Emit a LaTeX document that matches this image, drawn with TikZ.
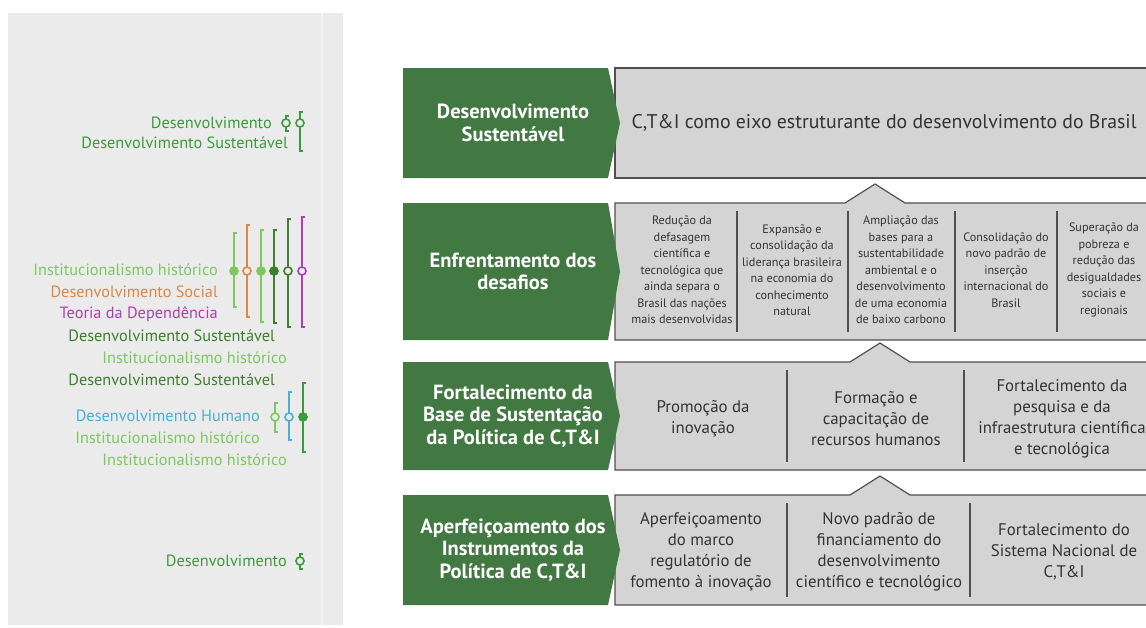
\documentclass[tikz,border=0pt]{standalone}
\usepackage{fontspec}
\setmainfont{PT Sans}
\usetikzlibrary{positioning}
\definecolor{panelGray}{RGB}{235,235,235}
\definecolor{boxGray}{RGB}{212,212,212}
\definecolor{edgeGray}{RGB}{80,80,80}
\definecolor{stageGreen}{RGB}{66,121,66}
\definecolor{devGreen}{RGB}{58,156,58}
\definecolor{instGreen}{RGB}{125,200,95}
\definecolor{susGreen}{RGB}{60,128,45}
\definecolor{socOrange}{RGB}{220,135,70}
\definecolor{depPurple}{RGB}{178,60,180}
\definecolor{humCyan}{RGB}{75,175,210}
\tikzstyle{pixels} = [x=1pt, y=-1pt]
\tikzstyle{stageStyle} = [fill=stageGreen, draw=none]
\tikzstyle{stageText} = [text=white, font=\fontsize{20.5}{22.5}\selectfont\bfseries, align=center]
\tikzstyle{boxStyle} = [fill=boxGray, draw=edgeGray, line width=1.2pt]
\tikzstyle{dividerLine} = [draw=edgeGray, line width=1.5pt]
\tikzstyle{itemText} = [font=\fontsize{16.8}{21}\selectfont, align=center, text=black!80]
\tikzstyle{smallText} = [font=\fontsize{12.2}{16.5}\selectfont, align=center, text=black!80, inner sep=1pt]
\tikzstyle{labelText} = [font=\fontsize{16.3}{18}\selectfont, anchor=east, inner sep=0pt]
\tikzstyle{barStyle} = [line width=1.6pt]
\newcommand{\boxLeft}{615}
\newcommand{\boxRight}{1160}
\newcommand{\stageArrow}[4]{\fill [stageStyle] (403,#2) -- (608,#2) -- (620,{(#2+#3)/2}) -- (608,#3) -- (403,#3) -- cycle;
  \node [stageText] (#1) at (513,{(#2+#3)/2}) {#4};}
\newcommand{\stageBox}[2]{\filldraw [boxStyle] (\boxLeft,#1) rectangle (\boxRight,#2);}
\newcommand{\stageBoxBump}[3]{\filldraw [boxStyle] (\boxLeft,#1) -- ({#3-30},#1) -- (#3,{#1-19}) -- ({#3+30},#1)
  -- (\boxRight,#1) -- (\boxRight,#2) -- (\boxLeft,#2) -- cycle;}
\newcommand{\divider}[3]{\draw [dividerLine] (#1,{#2+8}) -- (#1,{#3-8});}
\newcommand{\markerBar}[6]{\draw [barStyle, #5] ({#1+3},#2) -- (#1,#2) -- (#1,#3) -- ({#1+3},#3);
  \filldraw [barStyle, draw=#5, fill=#6] (#1,#4) circle (4);}

\begin{document}
\begin{tikzpicture}[pixels]
  \clip (0,0) rectangle (1146,627);
  \fill [white] (0,0) rectangle (1146,627);
  \fill [panelGray] (8,13) rectangle (343,625);
  \draw [white, line width=1.2pt, opacity=.45] (322,13) -- (322,625);

  % left panel
  \node [labelText, devGreen] (dev1) at (272,123) {Desenvolvimento};
  \node [labelText, devGreen] (sus1) at (288,143) {Desenvolvimento Sustentável};
  \markerBar{286}{116}{131}{123}{devGreen}{panelGray}
  \markerBar{300}{112}{151}{123}{devGreen}{panelGray}

  \node [labelText, instGreen] (inst1) at (218,270) {Institucionalismo histórico};
  \node [labelText, socOrange] (soc) at (218,292) {Desenvolvimento Social};
  \node [labelText, depPurple] (dep) at (218,314) {Teoria da Dependência};
  \node [labelText, susGreen] (sus2) at (275,336) {Desenvolvimento Sustentável};
  \node [labelText, instGreen] (inst2) at (287,358) {Institucionalismo histórico};
  \node [labelText, susGreen] (sus3) at (275,380) {Desenvolvimento Sustentável};
  \markerBar{234}{233}{307}{271}{instGreen}{instGreen}
  \markerBar{247}{225}{317}{271}{socOrange}{panelGray}
  \markerBar{261}{230}{322}{271}{instGreen}{instGreen}
  \markerBar{274}{230}{323}{271}{susGreen}{susGreen}
  \markerBar{288}{219}{327}{271}{susGreen}{panelGray}
  \markerBar{302}{217}{327}{271}{depPurple}{panelGray}

  \node [labelText, humCyan] (hum) at (260,416) {Desenvolvimento Humano};
  \node [labelText, instGreen] (inst3) at (260,438) {Institucionalismo histórico};
  \node [labelText, instGreen] (inst4) at (287,460) {Institucionalismo histórico};
  \markerBar{275}{403}{432}{417}{instGreen}{panelGray}
  \markerBar{289}{392}{440}{417}{humCyan}{panelGray}
  \markerBar{303}{383}{452}{417}{devGreen}{devGreen}

  \node [labelText, devGreen] (dev2) at (287,561) {Desenvolvimento};
  \markerBar{300}{554}{569}{561}{devGreen}{panelGray}

  % gray boxes
  \stageBox{68}{178}
  \stageBoxBump{203}{340}{875}
  \stageBoxBump{362}{470}{880}
  \stageBoxBump{495}{605}{880}

  % green stages
  \stageArrow{dsStage}{68}{178}{Desenvolvimento\\Sustentável}
  \stageArrow{edStage}{203}{340}{Enfrentamento dos\\desafios}
  \stageArrow{fbStage}{362}{470}{Fortalecimento da\\Base de Sustentação\\da Política de C,T\&I}
  \stageArrow{aiStage}{495}{605}{Aperfeiçoamento dos\\Instrumentos da\\Política de C,T\&I}

  % row 1
  \node [font=\fontsize{19.8}{22}\selectfont, text=black!80, anchor=west] (eixo) at (628,123) {C,T\&I como eixo estruturante do desenvolvimento do Brasil};

  % row 2
  \node [smallText] (reducao) at (682,270) {Redução da\\defasagem\\científica e\\tecnológica que\\ainda separa o\\Brasil das nações\\mais desenvolvidas};
  \node [smallText] (expansao) at (792,270) {Expansão e\\consolidação da\\liderança brasileira\\na economia do\\conhecimento\\natural};
  \node [smallText] (ampliacao) at (901,270) {Ampliação das\\bases para a\\sustentabilidade\\ambiental e o\\desenvolvimento\\de uma economia\\de baixo carbono};
  \node [smallText] (consolidacao) at (1006,270) {Consolidação do\\novo padrão de\\inserção\\internacional do\\Brasil};
  \node [smallText] (superacao) at (1104,270) {Superação da\\pobreza e\\redução das\\desigualdades\\sociais e\\regionais};
  \divider{737}{203}{340}
  \divider{848}{203}{340}
  \divider{955}{203}{340}
  \divider{1057}{203}{340}

  % row 3
  \node [itemText] (promocao) at (703,419) {Promoção da\\inovação};
  \node [itemText] (formacao) at (876,419) {Formação e\\capacitação de\\recursos humanos};
  \node [itemText] (pesquisa) at (1062,419) {Fortalecimento da\\pesquisa e da\\infraestrutura científica\\e tecnológica};
  \divider{787}{362}{470}
  \divider{964}{362}{470}

  % row 4
  \node [itemText] (marco) at (701,552) {Aperfeiçoamento\\do marco\\regulatório de\\fomento à inovação};
  \node [itemText] (financiamento) at (879,552) {Novo padrão de\\financiamento do\\desenvolvimento\\científico e tecnológico};
  \node [itemText] (sistema) at (1064,552) {Fortalecimento do\\Sistema Nacional de\\C,T\&I};
  \divider{787}{495}{605}
  \divider{970}{495}{605}
\end{tikzpicture}
\end{document}
